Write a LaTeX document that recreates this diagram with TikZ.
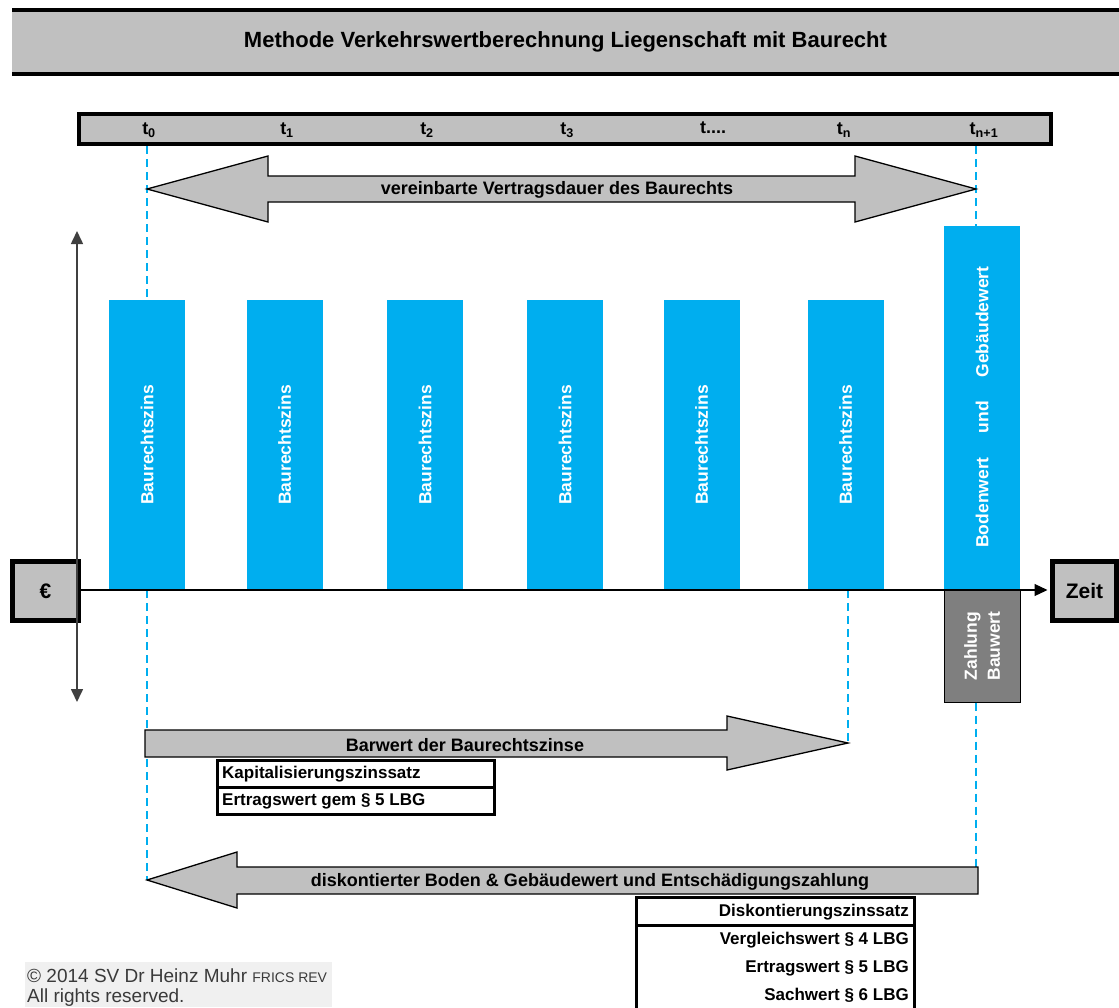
\documentclass[tikz,border=0pt]{standalone}
\usepackage{fontspec}
\setmainfont{Liberation Sans}
\usetikzlibrary{arrows.meta}
\definecolor{boxgray}{HTML}{C0C0C0}
\definecolor{barblue}{HTML}{00AEEF}
\definecolor{paygray}{HTML}{7F7F7F}
\definecolor{axisgray}{HTML}{404040}
\definecolor{copybg}{HTML}{F0F0F0}
\definecolor{copytext}{HTML}{3A3A3A}
\begin{document}
\begin{tikzpicture}[x=1pt,y=-1pt,
  lbl/.style={font=\fontsize{18}{21}\selectfont\bfseries, inner sep=0pt},
  tlbl/.style={font=\fontsize{18}{21}\selectfont\bfseries, inner sep=0pt},
  cell/.style={font=\fontsize{17}{20}\selectfont\bfseries, inner sep=0pt},
  bar/.style={fill=barblue, draw=none, inner sep=0pt, minimum width=76pt},
  bartext/.style={rotate=90, text=white, font=\fontsize{17.5}{23}\selectfont\bfseries, inner sep=0pt},
  guide/.style={draw=barblue, line width=2pt, dash pattern=on 8pt off 5pt},
  blockarrow/.style={fill=boxgray, draw=black, line width=1.3pt, line join=miter},
  framebox/.style={draw=black, fill=boxgray, line width=5pt, inner sep=0pt, font=\fontsize{21}{24}\selectfont\bfseries},
  tip/.style={Triangle[length=12pt,width=11pt]}
]
\useasboundingbox (0,0) rectangle (1119,1007);

% ---------- title ----------
\fill[boxgray] (12,10) rectangle (1119,74);
\draw[line width=4pt] (12,10) -- (1119,10) (12,74) -- (1119,74);
\node[font=\fontsize{22}{26}\selectfont\bfseries, inner sep=0pt] (title) at (565.5,42) {Methode Verkehrswertberechnung Liegenschaft mit Baurecht};

% ---------- key coordinates ----------
\coordinate (vdL) at (147,189);
\coordinate (vdR) at (976,189);
\coordinate (bwTip) at (848,743);
\coordinate (dkTip) at (147,880);
\coordinate (dkEnd) at (976,893);

% ---------- bars ----------
\foreach \n/\x in {1/147, 2/284.5, 3/425, 4/565, 5/701.5, 6/845.5} {
  \node[bar, minimum height=290pt] (b\n) at (\x,445) {};
  \node[bartext] (bt\n) at (b\n.center) {Baurechtszins};
}
\node[bar, minimum height=364pt] (big) at (982,408) {};
\node[bartext] (bw1) at (982,502.5) {Bodenwert};
\node[bartext] (bw2) at (982,417) {und};
\node[bartext] (bw3) at (982,322) {Gebäudewert};
\node[draw=black, line width=1pt, fill=paygray, minimum width=76pt, minimum height=112pt, inner sep=0pt] (pay) at (982,646) {};
\node[bartext, align=center] (paytext) at (pay.center) {Zahlung\\Bauwert};

% ---------- time bar ----------
\node[draw=black, line width=4pt, fill=boxgray, minimum width=972pt, minimum height=30pt, inner sep=0pt] (timebar) at (565,129) {};

% ---------- guides ----------
\draw[guide] (b1.north |- timebar.south) -- (b1.north);
\draw[guide] (b1.south) -- (dkTip);
\draw[guide] (bwTip |- b6.south) -- (bwTip);
\draw[guide] (vdR |- timebar.south) -- (vdR |- big.north);
\draw[guide] (vdR |- pay.south) -- (dkEnd);

% redraw time bar on top of guides
\node[draw=black, line width=4pt, fill=boxgray, minimum width=972pt, minimum height=30pt, inner sep=0pt] (timebar2) at (timebar.center) {};
\node[tlbl] (t0) at (149,130) {t\textsubscript{0}};
\node[tlbl] (t1) at (287,130) {t\textsubscript{1}};
\node[tlbl] (t2) at (427,130) {t\textsubscript{2}};
\node[tlbl] (t3) at (567,130) {t\textsubscript{3}};
\node[tlbl] (tdots) at (713,128) {t....};
\node[tlbl] (tn) at (844,130) {t\textsubscript{n}};
\node[tlbl] (tn1) at (984,130) {t\textsubscript{n+1}};

% ---------- Vertragsdauer double arrow ----------
\draw[blockarrow] (vdL) -- (268,156) -- (268,176) -- (855,176) -- (855,156) -- (vdR)
  -- (855,222) -- (855,202) -- (268,202) -- (268,222) -- cycle;
\node[lbl] (vdtext) at (557,190) {vereinbarte Vertragsdauer des Baurechts};

% ---------- axes ----------
\node[framebox, minimum width=66pt, minimum height=59pt] (euro) at (45.5,591) {€};
\node[framebox, minimum width=64pt, minimum height=59pt] (zeit) at (1084.5,591) {Zeit};
\draw[line width=1.2pt, -{Triangle[length=13pt,width=12pt]}, shorten >=2.5pt] (euro.east |- 0,590) -- (zeit.west |- 0,590);
\coordinate (vtop) at (77,231);
\coordinate (vbot) at (77,702);
\draw[axisgray, line width=1.6pt, {Triangle[length=13pt,width=12pt]}-{Triangle[length=13pt,width=12pt]}] (vtop) -- (vbot);

% ---------- Barwert arrow ----------
\draw[blockarrow] (145,730) -- (727,730) -- (727,716) -- (bwTip) -- (727,770) -- (727,757) -- (145,757) -- cycle;
\node[lbl] (bwtext) at (465,745) {Barwert der Baurechtszinse};

\draw[line width=3pt] (217.5,760.5) rectangle (494.5,814.5);
\draw[line width=3pt] (217.5,787.5) -- (494.5,787.5);
\node[cell, anchor=west] (kz) at (222,774) {Kapitalisierungszinssatz};
\node[cell, anchor=west] (ew) at (222,801) {Ertragswert gem § 5 LBG};

% ---------- diskontiert arrow ----------
\draw[blockarrow] (dkTip) -- (237,852) -- (237,867) -- (978,867) -- (978,894) -- (237,894) -- (237,908) -- cycle;
\node[lbl] (dktext) at (590,882) {diskontierter Boden \& Gebäudewert und Entschädigungszahlung};

\draw[line width=3pt] (636.5,1012) -- (636.5,897.5) -- (914.5,897.5) -- (914.5,1012);
\draw[line width=3pt] (636.5,925) -- (914.5,925);
\node[cell, anchor=east] (dz) at (909,912) {Diskontierungszinssatz};
\node[cell, anchor=east] (vw) at (909,940) {Vergleichswert § 4 LBG};
\node[cell, anchor=east] (ew2) at (909,968) {Ertragswert § 5 LBG};
\node[cell, anchor=east] (sw) at (909,995) {Sachwert § 6 LBG};

% ---------- copyright ----------
\fill[copybg] (25,962) rectangle (332,1007);
\node[anchor=base west, inner sep=0pt, text=copytext, font=\fontsize{19}{22}\selectfont] (copy1) at (27,982) {© 2014 SV Dr Heinz Muhr {\fontsize{14}{16}\selectfont FRICS REV}};
\node[anchor=base west, inner sep=0pt, text=copytext, font=\fontsize{19}{22}\selectfont] (copy2) at (27,1002) {All rights reserved.};
\end{tikzpicture}
\end{document}
